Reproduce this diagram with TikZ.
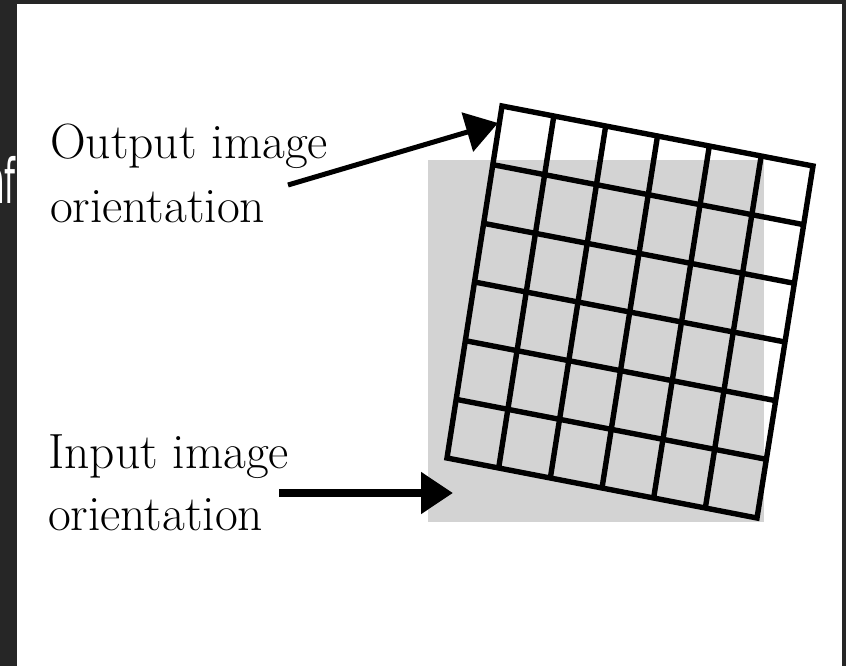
\documentclass[tikz,border=0pt]{standalone}
\usepackage{fontspec}
\newfontfamily\fragfont{DejaVu Sans}
\usetikzlibrary{calc,arrows.meta}
\definecolor{framedark}{HTML}{262626}
\definecolor{paneshade}{HTML}{D3D3D3}
\begin{document}
\begin{tikzpicture}[x=1pt,y=-1pt,
  caption/.style={anchor=base west, inner sep=0pt, font=\fontsize{49.5}{56}\selectfont},
  gridline/.style={line width=5.4pt, draw=black},
  pointer/.style={draw=black, -{Triangle[length=32pt,width=40pt]}}]
  \useasboundingbox (0,0) rectangle (846,666);
  % dark frame and white panel
  \fill[framedark] (0,0) rectangle (846,666);
  \fill[white] (17,4) rectangle (842,666);
  % cut-off heading text in the frame strip
  \begin{scope}
    \clip (0,0) rectangle (17,666);
    \node[anchor=base east, inner sep=0pt, text=white, xscale=0.5,
          font=\fragfont\fontsize{62}{70}\selectfont] (frag) at (16,203) {nf};
  \end{scope}
  % input image extent
  \fill[paneshade] (428,160) rectangle (764,522);
  % rotated output grid
  \coordinate (tl) at (502,106);
  \coordinate (tr) at (813,166);
  \coordinate (br) at (757,518);
  \coordinate (bl) at (447,458);
  \foreach \i in {1,...,5} {
    \draw[gridline] ($(tl)!\i/6!(bl)$) -- ($(tr)!\i/6!(br)$);
    \draw[gridline] ($(tl)!\i/6!(tr)$) -- ($(bl)!\i/6!(br)$);
  }
  \draw[gridline, line join=miter] (tl) -- (tr) -- (br) -- (bl) -- cycle;
  % captions
  \node[caption] (out1) at (50,158) {Output image};
  \node[caption] (out2) at (50,222) {orientation};
  \node[caption] (in1) at (48,468) {Input image};
  \node[caption] (in2) at (48,530) {orientation};
  % pointers
  \coordinate (outtail) at (288,185);
  \coordinate (outtip) at (498,123);
  \coordinate (intail) at (279,493);
  \coordinate (intip) at (453,493);
  \draw[pointer, line width=5pt] (outtail) -- (outtip);
  \draw[pointer, line width=8pt] (intail) -- (intip);
\end{tikzpicture}
\end{document}
